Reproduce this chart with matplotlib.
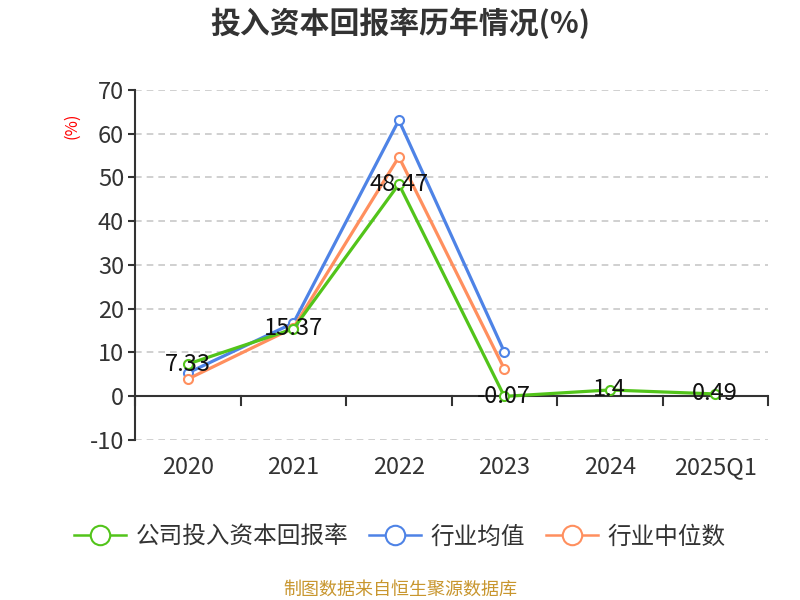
import matplotlib.pyplot as plt
from matplotlib.lines import Line2D
from matplotlib import transforms

plt.rcParams['font.family'] = ['Noto Sans CJK SC', 'DejaVu Sans']
plt.rcParams['axes.unicode_minus'] = False

years = ["2020", "2021", "2022", "2023", "2024", "2025Q1"]
company = [7.33, 15.37, 48.47, -0.07, 1.4, 0.49]
industry_avg = [5.3, 16.7, 63.1, 10.1]
industry_median = [3.9, 15.6, 54.7, 6.2]
company_labels = ["7.33", "15.37", "48.47", "-0.07", "1.4", "0.49"]

green = '#52c41a'
blue = '#4e83e6'
orange = '#ff8f5e'

fig = plt.figure(figsize=(8, 6), dpi=100)
ax = fig.add_axes([0.169, 0.267, 0.791, 0.583])

x = list(range(len(years)))
mk = dict(marker='o', markersize=6.5, markerfacecolor='white', markeredgewidth=1.5)
ax.plot(x[:len(industry_avg)], industry_avg, color=blue, lw=2.3, zorder=3, **mk)
ax.plot(x[:len(industry_median)], industry_median, color=orange, lw=2.3, zorder=4, **mk)
ax.plot(x, company, color=green, lw=2.3, zorder=5, **mk)

for xi, v, t in zip(x, company, company_labels):
    ax.text(xi, v, t, ha='center', va='center', fontsize=17, color='#111111', zorder=6)

ax.set_xlim(-0.5, len(years) - 0.5)
ax.set_ylim(-10, 70)
ax.set_yticks(range(-10, 71, 10))
ax.yaxis.grid(True, linestyle=(0, (4, 3)), color='#c8c8c8', lw=1.2)
ax.set_axisbelow(True)
for s in ['top', 'right', 'bottom']:
    ax.spines[s].set_visible(False)
ax.spines['left'].set_color('#333333')
ax.spines['left'].set_linewidth(1.5)
ax.tick_params(axis='y', length=5, width=1.5, color='#333333', labelsize=17,
               labelcolor='#333333', pad=3)

# x axis line at zero with boundary ticks
ax.axhline(0, color='#333333', lw=1.5, zorder=2)
ax.set_xticks([])
for b in [i - 0.5 for i in range(len(years) + 1)]:
    ax.plot([b, b], [0, -2.0], color='#333333', lw=1.5, zorder=2, clip_on=False)
trans = transforms.blended_transform_factory(ax.transData, ax.transAxes)
for xi, lab in zip(x, years):
    ax.text(xi, -0.097, lab, transform=trans, ha='center', va='baseline',
            fontsize=17, color='#333333', family='Noto Sans CJK SC')

fig.text(0.5, 0.962, "投入资本回报率历年情况(%)", ha='center', va='center',
         fontsize=21.5, fontweight='bold', color='#333333')
fig.text(0.09, 0.79, "(%)", rotation=90, ha='center', va='center',
         fontsize=12, color='red')

handles = [Line2D([], [], color=c, lw=1.8, marker='o', markersize=14,
                  markerfacecolor='white', markeredgewidth=1.5)
           for c in (green, blue, orange)]
fig.legend(handles, ["公司投入资本回报率", "行业均值", "行业中位数"],
           loc='center', bbox_to_anchor=(0.5, 0.105), ncol=3, frameon=False,
           fontsize=17, handlelength=2.2, columnspacing=0.9, handletextpad=0.4,
           labelcolor='#333333')

fig.text(0.5, 0.018, "制图数据来自恒生聚源数据库", ha='center', va='center',
         fontsize=13, color='#c8962e')

fig.savefig('out.png', dpi=100)
